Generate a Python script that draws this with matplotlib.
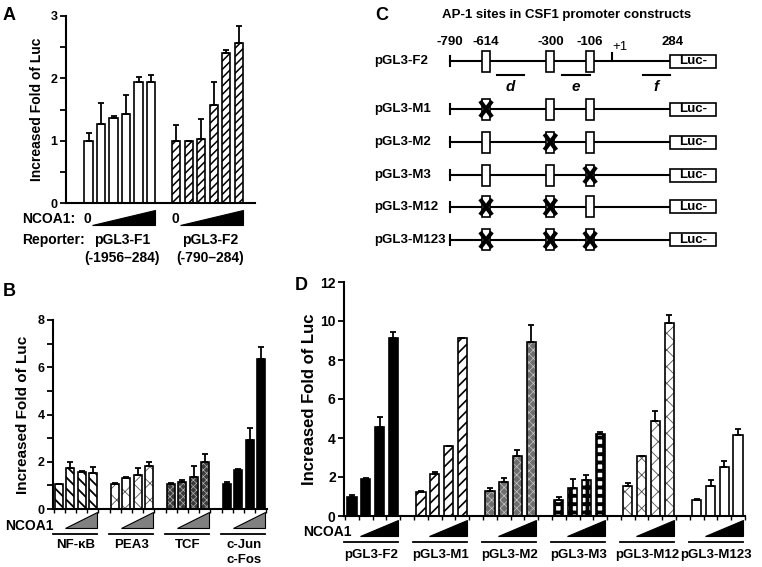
import numpy as np
import matplotlib
matplotlib.use("Agg")
import matplotlib.pyplot as plt
from matplotlib.patches import Polygon, Rectangle
from matplotlib.transforms import blended_transform_factory

plt.rcParams['font.family'] = ['Liberation Sans', 'DejaVu Sans']
plt.rcParams['font.weight'] = 'bold'
plt.rcParams['axes.labelweight'] = 'bold'

W, H = 762, 567

# ---------------- data ----------------
# panel A: NCOA1 dose series on two reporters
a_reporters = ['pGL3-F1', 'pGL3-F2']
a_ranges = ['(-1956\u2013284)', '(-790\u2013284)']
a_f1 = [1.00, 1.27, 1.37, 1.42, 1.94, 1.94]
a_f1_err = [0.12, 0.34, 0.03, 0.32, 0.08, 0.12]
a_f2 = [1.00, 0.99, 1.02, 1.57, 2.40, 2.56]
a_f2_err = [0.25, 0.01, 0.32, 0.37, 0.05, 0.28]

# panel B: transcription factor reporters
b_groups = ['NF-\u03baB', 'PEA3', 'TCF', 'c-Jun\nc-Fos']
b_vals = [[1.05, 1.73, 1.57, 1.52],
          [1.05, 1.33, 1.45, 1.80],
          [1.05, 1.14, 1.35, 2.00],
          [1.05, 1.66, 2.92, 6.36]]
b_err = [[0.00, 0.27, 0.02, 0.25],
         [0.04, 0.02, 0.30, 0.18],
         [0.04, 0.07, 0.45, 0.32],
         [0.11, 0.02, 0.50, 0.49]]

# panel C: promoter constructs
c_constructs = ['pGL3-F2', 'pGL3-M1', 'pGL3-M2', 'pGL3-M3', 'pGL3-M12', 'pGL3-M123']
c_sites = [-614, -300, -106]
c_mutated = [[], [0], [1], [2], [0, 1], [0, 1, 2]]
c_start, c_end = -790, 284
c_amplicons = {'d': (-560, -430), 'e': (-245, -106), 'f': (150, 284)}

# panel D: mutant constructs
d_groups = ['pGL3-F2', 'pGL3-M1', 'pGL3-M2', 'pGL3-M3', 'pGL3-M12', 'pGL3-M123']
d_vals = [[0.99, 1.90, 4.56, 9.15],
          [1.21, 2.13, 3.60, 9.12],
          [1.28, 1.75, 3.06, 8.90],
          [0.82, 1.45, 1.87, 4.18],
          [1.56, 3.06, 4.85, 9.88],
          [0.82, 1.55, 2.50, 4.15]]
d_err = [[0.10, 0.07, 0.51, 0.27],
         [0.08, 0.13, 0.00, 0.00],
         [0.17, 0.21, 0.31, 0.88],
         [0.17, 0.44, 0.22, 0.11],
         [0.14, 0.00, 0.52, 0.42],
         [0.06, 0.32, 0.30, 0.29]]

fig = plt.figure(figsize=(W / 100, H / 100), dpi=100)


def rect(l, t, r, b):
    return [l / W, 1 - b / H, (r - l) / W, (b - t) / H]


def fy(py):
    return 1 - py / H


def bars(ax, x, h, err, face='white', hatch=None, hcolor='black', hlw=1.0, width=0.68):
    x = np.asarray(x, dtype=float)
    if hatch:
        with plt.rc_context({'hatch.linewidth': hlw}):
            bc = ax.bar(x, h, width, color=face, edgecolor=hcolor, hatch=hatch,
                        linewidth=0, zorder=2)
        for p in bc.patches:
            if hasattr(p, 'set_hatch_linewidth'):
                p.set_hatch_linewidth(hlw)
    else:
        ax.bar(x, h, width, color=face, linewidth=0, zorder=2)
    ax.bar(x, h, width, fill=False, edgecolor='black', linewidth=1.2, zorder=3)
    ax.errorbar(x, h, yerr=[np.zeros(len(h)), err], fmt='none', ecolor='black',
                elinewidth=1.3, capsize=2, capthick=1.3, zorder=4)


def style_axis(ax, size):
    for s in ['top', 'right']:
        ax.spines[s].set_visible(False)
    for s in ['left', 'bottom']:
        ax.spines[s].set_linewidth(1.5)
    ax.tick_params(axis='y', which='both', direction='out', length=4, width=1.3,
                   labelsize=size, pad=2)
    ax.tick_params(axis='y', which='minor', length=4)
    for lab in ax.get_yticklabels():
        lab.set_fontweight('bold')


# ---------------- panel A ----------------
axA = fig.add_axes(rect(66, 16, 255, 203))
xa1 = np.arange(6)
xa2 = np.arange(6) + 7
bars(axA, xa1, a_f1, a_f1_err, width=0.66)
bars(axA, xa2, a_f2, a_f2_err, hatch='////', hlw=1.1, width=0.66)
axA.set_xlim(-1.8, 13.3)
axA.set_ylim(0, 3)
axA.set_yticks([0, 1, 2, 3])
axA.set_yticks([0.5, 1.5, 2.5], minor=True)
axA.set_xticks([])
style_axis(axA, 9)
axA.set_ylabel('Increased Fold of Luc', fontsize=10)
axA.yaxis.set_label_coords((44 - 66) / 189, 0.5)
fig.text(3 / W, fy(15), 'A', fontsize=13, va='center')

tA = blended_transform_factory(axA.transData, fig.transFigure)
fig.text(22 / W, fy(219), 'NCOA1:', fontsize=10, va='center')
fig.text(22 / W, fy(240), 'Reporter:', fontsize=10, va='center')
for xs, rep, rng in [(xa1, a_reporters[0], a_ranges[0]), (xa2, a_reporters[1], a_ranges[1])]:
    x0, x1 = xs[0], xs[-1]
    axA.add_patch(Polygon([(x0 + 0.3, fy(225)), (x1 + 0.33, fy(225)), (x1 + 0.33, fy(210))],
                          closed=True, facecolor='black', edgecolor='black', linewidth=0.8,
                          transform=tA, clip_on=False))
    axA.text(x0 - 0.1, fy(219), '0', transform=tA, fontsize=10, ha='center', va='center')
    cx = (x0 + x1) / 2 + 0.2
    axA.text(cx, fy(240), rep, transform=tA, fontsize=10, ha='center', va='center')
    axA.text(cx, fy(258), rng, transform=tA, fontsize=10, ha='center', va='center')

# ---------------- panel B ----------------
axB = fig.add_axes(rect(53, 320, 267, 509))
b_styles = [dict(face='white', hatch='\\\\\\', hcolor='black', hlw=1.3),
            dict(face='white', hatch='xx', hcolor='#555555', hlw=0.6),
            dict(face='#3a3a3a', hatch='xxxxx', hcolor='#b0b0b0', hlw=0.5),
            dict(face='black')]
for g, (vals, errs) in enumerate(zip(b_vals, b_err)):
    xs = g * 5 + np.arange(len(vals))
    bars(axB, xs, vals, errs, width=0.72, **b_styles[g])
axB.set_xlim(-0.55, 18.55)
axB.set_ylim(0, 8)
axB.set_yticks([0, 2, 4, 6, 8])
axB.set_yticks([1, 3, 5, 7], minor=True)
axB.set_xticks(np.arange(-0.5, 19, 1))
axB.tick_params(axis='x', direction='out', length=3, width=1, labelbottom=False)
style_axis(axB, 9)
axB.set_ylabel('Increased Fold of Luc', fontsize=11)
axB.yaxis.set_label_coords((30 - 53) / 214, 0.5)
fig.text(3 / W, fy(292), 'B', fontsize=13, va='center')

tB = blended_transform_factory(axB.transData, fig.transFigure)
fig.text(5 / W, fy(526), 'NCOA1', fontsize=10, va='center')
for g, name in enumerate(b_groups):
    x0 = g * 5
    axB.add_patch(Polygon([(x0 + 0.5, fy(528)), (x0 + 3.4, fy(528)), (x0 + 3.4, fy(512))],
                          closed=True, facecolor='#808080', edgecolor='black', linewidth=0.8,
                          transform=tB, clip_on=False))
    axB.plot([x0 - 0.55, x0 + 3.4], [fy(534), fy(534)], color='black', lw=1.3,
             transform=tB, clip_on=False)
    axB.text(x0 + 1.5, fy(539), name, transform=tB, fontsize=9.5, ha='center', va='top',
             linespacing=1.3)

# ---------------- panel C ----------------
axC = fig.add_axes(rect(370, 0, 762, 265))
axC.axis('off')
px_per_bp = 220 / (c_end - c_start)
axC.set_xlim(c_start - (450 - 370) / px_per_bp, c_start + (762 - 450) / px_per_bp)
axC.set_ylim(265, 0)
row_y = [61, 109, 142, 175, 207, 240]
bp = 1 / px_per_bp
fig.text(375 / W, fy(15), 'C', fontsize=13, va='center')
fig.text(567 / W, fy(15), 'AP-1 sites in CSF1 promoter constructs', fontsize=9.5,
         ha='center', va='center')
tC = blended_transform_factory(fig.transFigure, axC.transData)
for r, (name, muts) in enumerate(zip(c_constructs, c_mutated)):
    y = row_y[r]
    axC.text(374 / W, y, name, transform=tC, fontsize=9.5, ha='left', va='center')
    axC.plot([c_start, c_end], [y, y], color='black', lw=1.5, zorder=1)
    axC.plot([c_start, c_start], [y - 5, y + 5], color='black', lw=1.5, zorder=1)
    for i, s in enumerate(c_sites):
        axC.add_patch(Rectangle((s - 4 * bp, y - 10.5), 8 * bp, 21, facecolor='white',
                                edgecolor='black', linewidth=1.2, zorder=2))
        if i in muts:
            axC.plot([s - 6 * bp, s + 6 * bp], [y - 8, y + 8], color='black', lw=3,
                     solid_capstyle='butt', zorder=3)
            axC.plot([s - 6 * bp, s + 6 * bp], [y + 8, y - 8], color='black', lw=3,
                     solid_capstyle='butt', zorder=3)
    axC.add_patch(Rectangle((c_end, y - 6.5), 46 * bp, 13, facecolor='white',
                            edgecolor='black', linewidth=1.2, zorder=2))
    axC.text(c_end + 23 * bp, y, 'Luc-', fontsize=9.5, ha='center', va='center')

y0 = row_y[0]
for pos in [c_start] + c_sites:
    axC.text(pos, y0 - 19, str(pos), fontsize=9.5, ha='center', va='center')
axC.text(c_end + 3 * bp, y0 - 19, str(c_end), fontsize=9.5, ha='center', va='center')
axC.plot([1, 1], [y0, y0 - 8], color='black', lw=1.5)
axC.text(1 + 8 * bp, y0 - 14, '+1', fontsize=9.5, fontweight='normal', ha='center',
         va='center')
for lab, (s, e) in c_amplicons.items():
    axC.plot([s, e], [y0 + 14, y0 + 14], color='black', lw=1.5)
    axC.text((s + e) / 2, y0 + 26, lab, fontsize=11, style='italic', ha='center',
             va='center')

# ---------------- panel D ----------------
axD = fig.add_axes(rect(344, 282, 745, 516))
d_styles = [dict(face='black'),
            dict(face='white', hatch='///', hcolor='black', hlw=1.2),
            dict(face='#6e6e6e', hatch='xxxx', hcolor='#c8c8c8', hlw=0.5),
            dict(face='white', hatch='++', hcolor='black', hlw=2.8),
            dict(face='white', hatch='xx', hcolor='#505050', hlw=0.6),
            dict(face='white')]
for g, (vals, errs) in enumerate(zip(d_vals, d_err)):
    xs = g * 5 + np.arange(len(vals))
    bars(axD, xs, vals, errs, width=0.67, **d_styles[g])
axD.set_xlim(-0.58, 28.3)
axD.set_ylim(0, 12)
axD.set_yticks(np.arange(0, 13, 2))
axD.set_xticks(np.arange(-0.5, 29, 1))
axD.tick_params(axis='x', direction='out', length=3, width=1, labelbottom=False)
style_axis(axD, 10)
axD.set_ylabel('Increased Fold of Luc', fontsize=12)
axD.yaxis.set_label_coords((317 - 344) / 401, 0.5)
fig.text(295 / W, fy(285), 'D', fontsize=13, va='center')

tD = blended_transform_factory(axD.transData, fig.transFigure)
fig.text(303 / W, fy(532), 'NCOA1', fontsize=10, va='center')
for g, name in enumerate(d_groups):
    x0 = g * 5
    axD.add_patch(Polygon([(x0 + 0.58, fy(536)), (x0 + 3.33, fy(536)), (x0 + 3.33, fy(520))],
                          closed=True, facecolor='black', edgecolor='black', linewidth=0.8,
                          transform=tD, clip_on=False))
    axD.plot([x0 - 0.55, x0 + 3.33], [fy(542), fy(542)], color='black', lw=1.3,
             transform=tD, clip_on=False)
    axD.text(x0 + 1.4, fy(555), name, transform=tD, fontsize=9.5, ha='center', va='center')

fig.savefig('out.png', dpi=100)
